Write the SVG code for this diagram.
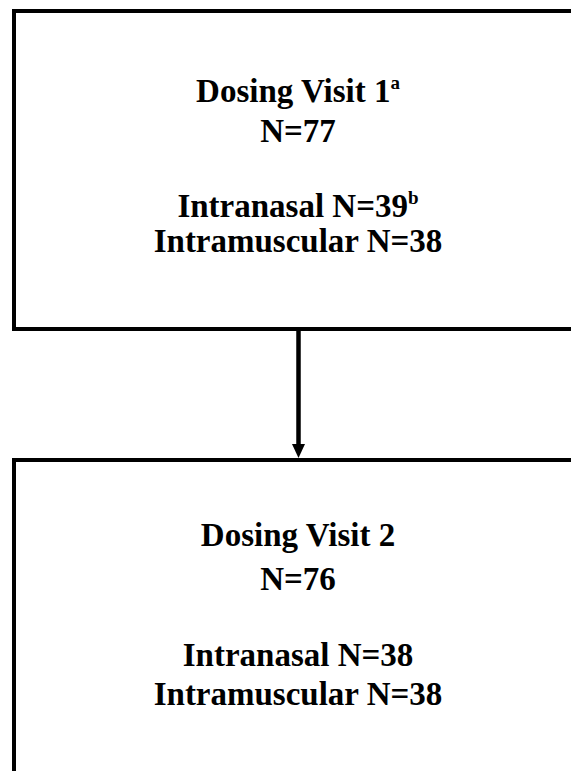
<svg xmlns="http://www.w3.org/2000/svg" width="571" height="771" viewBox="0 0 571 771">
<style>
.box{fill:#fff;stroke:#000;stroke-width:4}
.t{font-family:"Liberation Serif","Times New Roman",serif;font-weight:bold;font-size:33px;fill:#000;text-anchor:middle}
.sup{font-size:19px}
</style>
<rect width="571" height="771" fill="#fff"/>
<g id="node1">
<rect class="box" x="14" y="11" width="580" height="318"/>
<text class="t" x="298" y="102">Dosing Visit 1<tspan class="sup" dy="-13">a</tspan></text>
<text class="t" x="298" y="142">N=77</text>
<text class="t" x="298" y="217">Intranasal N=39<tspan class="sup" dy="-13">b</tspan></text>
<text class="t" x="298" y="252">Intramuscular N=38</text>
</g>
<g id="node2">
<rect class="box" x="14" y="460" width="580" height="330"/>
<text class="t" x="298" y="546">Dosing Visit 2</text>
<text class="t" x="298" y="590">N=76</text>
<text class="t" x="298" y="666">Intranasal N=38</text>
<text class="t" x="298" y="705">Intramuscular N=38</text>
</g>
<g id="connectors">
<line x1="298.5" y1="331" x2="298.5" y2="446" stroke="#000" stroke-width="4.5"/>
<polygon points="292,444 305,444 298.5,458" fill="#000"/>
</g>
</svg>
